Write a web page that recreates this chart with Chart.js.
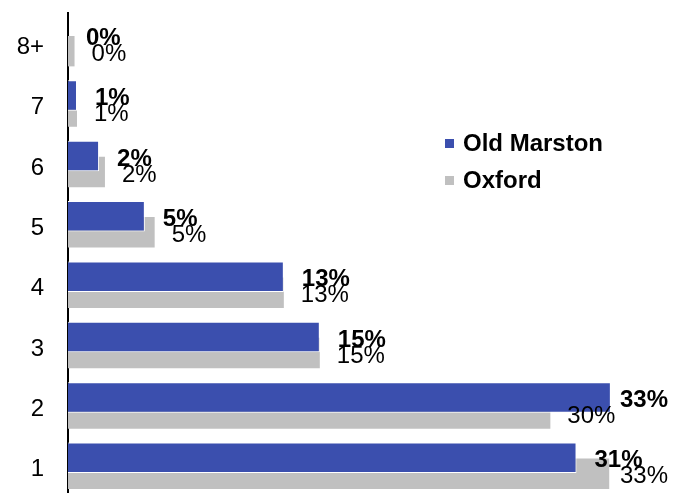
<!DOCTYPE html>
<html>
<head>
<meta charset="utf-8">
<script src="https://cdn.jsdelivr.net/npm/chart.js@4/dist/chart.umd.min.js"></script>
<style>
  html, body { margin: 0; padding: 0; background: #fff; overflow: hidden; }
  #wrap { position: relative; width: 673px; height: 500px; }
</style>
</head>
<body>
<div id="wrap"><canvas id="chart"></canvas></div>
<script>
const categories = ['8+', '7', '6', '5', '4', '3', '2', '1'];
const oldMarston = [0, 0.55, 1.9, 4.7, 13.2, 15.4, 33.2, 31.1];
const oxford = [0.4, 0.55, 2.26, 5.3, 13.2, 15.4, 29.5, 33.1];
const seriesNames = ['Old Marston', 'Oxford'];
const seriesColors = ['#3b4fae', '#c0c0c0'];

const FONT = '"Liberation Sans", Arial, sans-serif';

// value labels to the right of each bar, grey ones first so bold ones sit on top
const valueLabels = {
  id: 'valueLabels',
  afterDatasetsDraw(chart) {
    const ctx = chart.ctx;
    const maxRight = chart.width - 5;
    ctx.save();
    ctx.fillStyle = '#000';
    ctx.textAlign = 'left';
    ctx.textBaseline = 'middle';
    [1, 0].forEach(di => {
      const meta = chart.getDatasetMeta(di);
      const values = chart.data.datasets[di].data;
      ctx.font = (di === 0 ? 'bold ' : '') + '24px ' + FONT;
      meta.data.forEach((bar, i) => {
        const text = Math.round(values[i]) + '%';
        const w = ctx.measureText(text).width;
        const x = Math.min(bar.x + (di === 0 ? 18 : 17), maxRight - w);
        ctx.fillText(text, x, bar.y + 3);
      });
    });
    ctx.restore();
  }
};

// legend drawn inside the plot, to the right
const sideLegend = {
  id: 'sideLegend',
  afterDraw(chart) {
    const ctx = chart.ctx;
    ctx.save();
    ctx.font = 'bold 24px ' + FONT;
    ctx.textAlign = 'left';
    ctx.textBaseline = 'middle';
    seriesNames.forEach((name, i) => {
      const y = 144 + i * 37;
      ctx.fillStyle = seriesColors[i];
      ctx.fillRect(445, y - 5, 9, 9);
      ctx.fillStyle = '#000';
      ctx.fillText(name, 463, y);
    });
    ctx.restore();
  }
};

new Chart(document.getElementById('chart'), {
  type: 'bar',
  data: {
    labels: categories,
    datasets: [
      {
        label: seriesNames[0],
        data: oldMarston,
        backgroundColor: seriesColors[0],
        borderColor: '#ffffff',
        borderWidth: 1,
      },
      {
        label: seriesNames[1],
        data: oxford,
        backgroundColor: seriesColors[1],
        borderWidth: 0,
      },
    ],
  },
  options: {
    indexAxis: 'y',
    responsive: true,
    maintainAspectRatio: false,
    animation: false,
    categoryPercentage: 0.53,
    barPercentage: 1.9,
    layout: { padding: { top: 13, bottom: 4, right: 0, left: 0 } },
    plugins: {
      legend: { display: false },
      tooltip: { enabled: false },
    },
    scales: {
      x: {
        display: false,
        min: 0,
        max: 37,
      },
      y: {
        afterFit: (scale) => {
          scale.width = 68;
          scale.paddingTop = 0;
          scale.paddingBottom = 0;
        },
        grid: { display: false, drawTicks: false },
        border: { display: true, color: '#000', width: 2 },
        ticks: {
          color: '#000',
          padding: 24,
          labelOffset: 4,
          font: { family: FONT, size: 24 },
        },
      },
    },
  },
  plugins: [valueLabels, sideLegend],
});
</script>
</body>
</html>
